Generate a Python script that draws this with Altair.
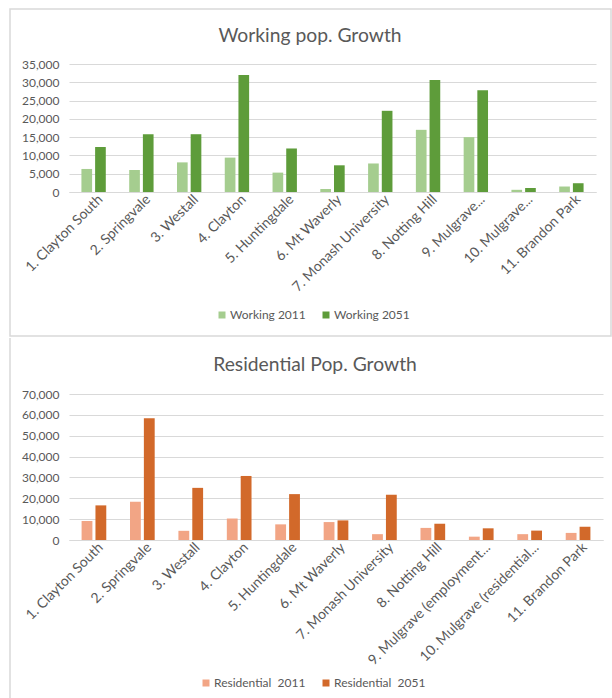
import altair as alt
import pandas as pd

FONT = "Lato"
GREY = "#595959"
GRID = "#D9D9D9"

# ---- data ----
working_categories = ["1. Clayton South", "2. Springvale", "3. Westall", "4. Clayton",
                      "5. Huntingdale", "6. Mt Waverly", "7. Monash University",
                      "8. Notting Hill", "9. Mulgrave...", "10. Mulgrave...", "11. Brandon Park"]
working_series = ["Working 2011", "Working 2051"]
working_2011 = [6300, 6000, 8100, 9400, 5300, 800, 7800, 17000, 15000, 600, 1500]
working_2051 = [12300, 15800, 15800, 32000, 11900, 7300, 22200, 30600, 27800, 1100, 2400]
working_ticks = [0, 5000, 10000, 15000, 20000, 25000, 30000, 35000]
working_colors = ["#A5CD8F", "#5E9C3A"]
working_title = "Working pop. Growth"

res_categories = ["1. Clayton South", "2. Springvale", "3. Westall", "4. Clayton",
                  "5. Huntingdale", "6. Mt Waverly", "7. Monash University",
                  "8. Notting Hill", "9. Mulgrave (employment...",
                  "10. Mulgrave (residential...", "11. Brandon Park"]
res_series = ["Residential\u00a0 2011", "Residential\u00a0 2051"]
res_2011 = [9100, 18300, 4400, 10300, 7500, 8600, 2800, 5800, 1600, 2800, 3400]
res_2051 = [16600, 58400, 25000, 30700, 22000, 9400, 21700, 7800, 5600, 4500, 6300]
res_ticks = [0, 10000, 20000, 30000, 40000, 50000, 60000, 70000]
res_colors = ["#F2A585", "#D2692A"]
res_title = "Residential Pop. Growth"


def long_df(cats, series, a, b):
    rows = []
    for c, v1, v2 in zip(cats, a, b):
        rows.append({"cat": c, "series": series[0], "value": v1})
        rows.append({"cat": c, "series": series[1], "value": v2})
    return pd.DataFrame(rows)


def panel(cats, series, a, b, ticks, colors, title, width, height,
          frame_enc, legend_x, legend_y, title_x, title_y):
    df = long_df(cats, series, a, b)
    bars = alt.Chart(df).mark_bar().encode(
        x=alt.X("cat:N", sort=cats, title=None,
                scale=alt.Scale(paddingInner=0.49, paddingOuter=0.26),
                axis=alt.Axis(labelAngle=315, labelAlign="right", labelBaseline="middle",
                              labelPadding=5, labelOffset=7,
                              labelFontSize=14, labelLimit=300,
                              domain=True, domainColor=GRID, ticks=False, grid=False)),
        xOffset=alt.XOffset("series:N", sort=series,
                            scale=alt.Scale(paddingInner=0.22, paddingOuter=0)),
        y=alt.Y("value:Q", title=None,
                scale=alt.Scale(domain=[ticks[0], ticks[-1]], nice=False),
                axis=alt.Axis(values=ticks, format=",d", domain=False, ticks=False,
                              grid=True, gridColor=GRID, labelPadding=10, labelFontSize=12)),
        color=alt.Color("series:N", sort=series,
                        scale=alt.Scale(domain=series, range=colors),
                        legend=alt.Legend(title=None, orient="none", direction="horizontal",
                                          legendX=legend_x, legendY=legend_y,
                                          symbolType="square", symbolSize=49,
                                          symbolStrokeWidth=0, labelFontSize=12,
                                          labelOffset=2, columnPadding=14)),
    )
    ttl = alt.Chart(pd.DataFrame({"t": [title]})).mark_text(
        fontSize=19.3, font=FONT, color=GREY, align="center", baseline="middle"
    ).encode(text="t:N", x=alt.value(title_x), y=alt.value(title_y))
    return alt.layer(frame_enc, bars, ttl).properties(width=width, height=height)


top_frame = alt.Chart(pd.DataFrame({"f": [0]})).mark_rect(
    fillOpacity=0, stroke=GRID, strokeWidth=1.5
).encode(x=alt.value(-59), x2=alt.value(542), y=alt.value(-55), y2=alt.value(272))

bottom_frame = alt.Chart(pd.DataFrame({"f": [0]})).mark_rule(
    stroke=GRID, strokeWidth=1.5
).encode(x=alt.value(-59), y=alt.value(-56), y2=alt.value(307))

top = panel(working_categories, working_series, working_2011, working_2051,
            working_ticks, working_colors, working_title, 527, 128,
            top_frame, 147, 245, 241, -28)
bottom = panel(res_categories, res_series, res_2011, res_2051,
               res_ticks, res_colors, res_title, 534, 146,
               bottom_frame, 131, 283, 246, -29)

chart = alt.vconcat(top, bottom, spacing=0).resolve_scale(
    color="independent", x="independent", xOffset="independent", y="independent"
).resolve_legend(color="independent").properties(
    padding={"top": 8, "left": 9, "right": 0, "bottom": 0}
).configure_view(stroke=None).configure_axis(
    labelFont=FONT, labelColor=GREY
).configure_legend(
    labelFont=FONT, labelColor=GREY
)

chart.save("out.html", embed_options={"renderer": "svg", "actions": False})
